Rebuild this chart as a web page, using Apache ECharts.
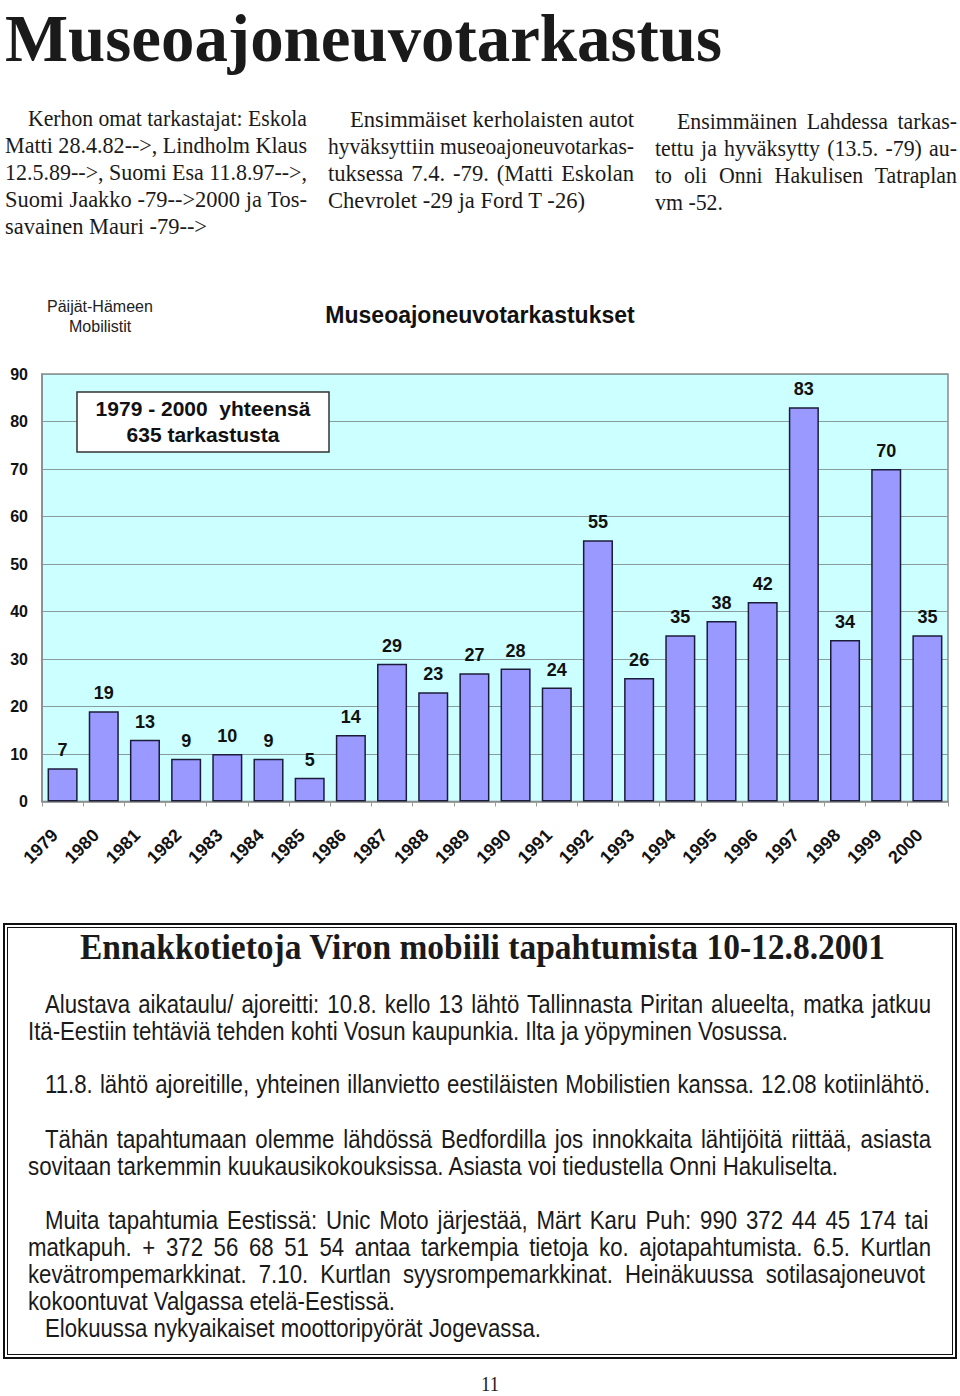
<!DOCTYPE html>
<html lang="fi">

<head>
  <meta charset="UTF-8">
  <title>Museoajoneuvotarkastus</title>
  <script src="https://cdn.jsdelivr.net/npm/echarts@6.0.0/dist/echarts.min.js"></script>
  <style>
    body { margin: 0; width: 960px; height: 1396px; position: relative; background: #fff; overflow: hidden; }
    .ln { position: absolute; white-space: nowrap; transform-origin: 0 50%; line-height: 1; color: #1a1a1a; }
    .serif { font-family: "Liberation Serif", "Times New Roman", serif; }
    .sans { font-family: "Liberation Sans", Arial, sans-serif; }
    #main { position: absolute; left: 0; top: 290px; width: 960px; height: 610px; }
    .frame { position: absolute; box-sizing: border-box; border: 2px solid #111; }
  </style>
</head>

<body>
  <div class="frame" style="left:3px;top:923px;width:954px;height:436px;"></div>
  <div class="frame" style="left:7px;top:927px;width:946px;height:428px;border-width:1px;"></div>
  <div id="main"></div>
  <script>
    // chart data
    var years = ['1979', '1980', '1981', '1982', '1983', '1984', '1985', '1986', '1987', '1988', '1989',
      '1990', '1991', '1992', '1993', '1994', '1995', '1996', '1997', '1998', '1999', '2000'];
    var counts = [7, 19, 13, 9, 10, 9, 5, 14, 29, 23, 27, 28, 24, 55, 26, 35, 38, 42, 83, 34, 70, 35];
    var yMin = 0, yMax = 90, yStep = 10;

    // page text: [text, x0, x1, yCenter, justify]
    var col1 = [
      ['Kerhon omat tarkastajat: Eskola', 28, 307, 118, true],
      ['Matti 28.4.82-->, Lindholm Klaus', 5, 307, 145, true],
      ['12.5.89-->, Suomi Esa 11.8.97-->,', 5, 307, 172, true],
      ['Suomi Jaakko -79-->2000 ja Tos-', 5, 307, 199, true],
      ['savainen Mauri -79-->', 5, 207, 226, false]
    ];
    var col2 = [
      ['Ensimmäiset kerholaisten autot', 350, 634, 119, true],
      ['hyväksyttiin museoajoneuvotarkas-', 328, 634, 146, true],
      ['tuksessa 7.4. -79. (Matti Eskolan', 328, 634, 173, true],
      ['Chevrolet -29 ja Ford T -26)', 328, 585, 200, false]
    ];
    var col3 = [
      ['Ensimmäinen Lahdessa tarkas-', 677, 957, 121, true],
      ['tettu ja hyväksytty (13.5. -79) au-', 655, 957, 148, true],
      ['to oli Onni Hakulisen Tatraplan', 655, 957, 175, true],
      ['vm -52.', 655, 723, 202, false]
    ];
    var boxText = [
      ['Alustava aikataulu/ ajoreitti: 10.8. kello 13 lähtö Tallinnasta Piritan alueelta, matka jatkuu', 45, 931, 1004, true],
      ['Itä-Eestiin tehtäviä tehden kohti Vosun kaupunkia. Ilta ja yöpyminen Vosussa.', 28, 788, 1031, false],
      ['11.8.  lähtö ajoreitille, yhteinen illanvietto eestiläisten Mobilistien kanssa. 12.08 kotiinlähtö.', 45, 931, 1084, true],
      ['Tähän tapahtumaan olemme lähdössä Bedfordilla jos innokkaita lähtijöitä riittää, asiasta', 45, 931, 1139, true],
      ['sovitaan tarkemmin kuukausikokouksissa. Asiasta voi tiedustella Onni Hakuliselta.', 28, 838, 1166, false],
      ['Muita tapahtumia Eestissä: Unic Moto järjestää, Märt Karu  Puh: 990 372 44 45 174 tai', 45, 931, 1220, true],
      ['matkapuh. + 372 56 68 51 54 antaa tarkempia tietoja ko. ajotapahtumista. 6.5. Kurtlan', 28, 931, 1247, true],
      ['kevätrompemarkkinat. 7.10. Kurtlan syysrompemarkkinat.  Heinäkuussa sotilasajoneuvot', 28, 931, 1274, true],
      ['kokoontuvat Valgassa etelä-Eestissä.', 28, 395, 1301, false],
      ['Elokuussa nykyaikaiset moottoripyörät Jogevassa.', 45, 541, 1328, false]
    ];

    function makeLine(l, cls, size, weight) {
      var d = document.createElement('div');
      d.className = 'ln ' + cls;
      d.style.fontSize = size + 'px';
      d.style.fontWeight = weight;
      d.style.left = l[1] + 'px';
      d.style.top = (l[3] - size / 2) + 'px';
      d.textContent = l[0];
      document.body.appendChild(d);
      return d;
    }

    // lines that are not justified set the squeeze of the block,
    // justified ones are filled out with word spacing
    function block(lines, cls, size, weight) {
      var els = lines.map(function (l) { return makeLine(l, cls, size, weight || 'normal'); });
      var scales = [];
      lines.forEach(function (l, i) {
        if (!l[4]) scales.push((l[2] - l[1]) / els[i].getBoundingClientRect().width);
      });
      var s = scales.reduce(function (a, b) { return a + b; }, 0) / scales.length;
      lines.forEach(function (l, i) {
        var el = els[i];
        var w = el.getBoundingClientRect().width;
        var target = l[2] - l[1];
        if (!l[4]) {
          el.style.transform = 'scaleX(' + (target / w) + ')';
        } else if (w * s >= target) {
          el.style.transform = 'scaleX(' + (target / w) + ')';
        } else {
          var gaps = l[0].split(' ').length - 1;
          el.style.wordSpacing = ((target / s - w) / gaps) + 'px';
          el.style.transform = 'scaleX(' + s + ')';
        }
      });
    }

    block([['Museoajoneuvotarkastus', 5, 722, 38, false]], 'serif', 67, 'bold');
    block(col1, 'serif', 23);
    block(col2, 'serif', 23);
    block(col3, 'serif', 23);
    block([['Ennakkotietoja Viron mobiili tapahtumista 10-12.8.2001', 80, 885, 947, false]], 'serif', 36, 'bold');
    block(boxText, 'sans', 25);
    block([['11', 481, 499, 1384, false]], 'serif', 22);

    var chartDom = document.getElementById('main');
    var myChart = echarts.init(chartDom, null, { renderer: 'svg' });
    var font = '"Liberation Sans", Arial, sans-serif';
    var option = {
      animation: false,
      title: {
        text: 'Museoajoneuvotarkastukset',
        left: 'center',
        top: 8,
        textStyle: { fontFamily: font, fontSize: 23, fontWeight: 'bold', color: '#111' }
      },
      graphic: [
        {
          type: 'text', left: 47, top: 8,
          style: { text: 'Päijät-Hämeen', font: '16px ' + font, fill: '#222' }
        },
        {
          type: 'text', left: 69, top: 28,
          style: { text: 'Mobilistit', font: '16px ' + font, fill: '#222' }
        },
        {
          type: 'rect', shape: { x: 77, y: 102, width: 252, height: 60 },
          style: { fill: '#fff', stroke: '#333', lineWidth: 1.5 }, z: 10
        },
        {
          type: 'text', x: 203, y: 131, z: 11,
          style: {
            text: '1979 - 2000  yhteensä\n635 tarkastusta', align: 'center', verticalAlign: 'middle',
            font: 'bold 21px ' + font, lineHeight: 26, fill: '#111'
          }
        }
      ],
      grid: {
        left: 42, right: 12, top: 84, bottom: 98.5,
        show: true, backgroundColor: '#ccffff', borderColor: '#8a8a8a', borderWidth: 1.5
      },
      xAxis: {
        type: 'category',
        data: years,
        axisLine: { lineStyle: { color: '#8a8a8a', width: 1.5 } },
        axisTick: { show: true, length: 5, lineStyle: { color: '#999' } },
        axisLabel: {
          interval: 0, rotate: 45, margin: 23, padding: [0, 11, 0, 0],
          fontFamily: font, fontSize: 18, fontWeight: 'bold', color: '#111'
        }
      },
      yAxis: {
        type: 'value',
        min: yMin, max: yMax, interval: yStep,
        axisLine: { show: true, lineStyle: { color: '#8a8a8a', width: 1.5 } },
        axisTick: { show: false },
        splitLine: { lineStyle: { color: '#889c9c' } },
        axisLabel: { margin: 14, fontFamily: font, fontSize: 16, fontWeight: 'bold', color: '#111' }
      },
      series: [
        {
          type: 'bar',
          data: counts,
          barCategoryGap: '27%',
          itemStyle: { color: '#9999ff', borderColor: '#1c1c3a', borderWidth: 1.5 },
          label: {
            show: true, position: 'top', distance: 9,
            fontFamily: font, fontSize: 18, fontWeight: 'bold', color: '#111'
          }
        }
      ]
    };

    option && myChart.setOption(option);
  </script>
</body>

</html>
